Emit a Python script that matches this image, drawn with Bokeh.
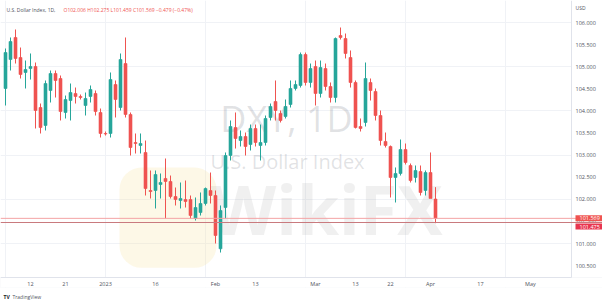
import numpy as np
import pandas as pd
from bokeh.plotting import figure
from bokeh.models import (Range1d, FixedTicker, PrintfTickFormatter, Label, Span,
                          ColumnDataSource, BoxAnnotation, LinearAxis)
from bokeh.embed import file_html
from bokeh.resources import INLINE

# ---------------- data ----------------
start_date = "2022-12-05"
end_date = "2023-04-04"
dates = pd.bdate_range(start_date, end_date)

opens = [104.507, 105.163, 105.661, 105.208, 104.869, 104.959, 105.005, 104.077, 103.670, 104.462,
         104.846, 104.733, 103.964, 104.235, 104.394, 104.326, 104.122, 104.326, 104.394, 103.964,
         103.489, 103.489, 104.597, 104.077, 105.072, 103.919, 103.285, 103.217, 103.059, 102.199,
         102.199, 102.335, 102.471, 102.403, 102.063, 101.973, 101.995, 101.995, 101.566, 101.701,
         101.905, 102.199, 102.086, 100.880, 101.814, 102.991, 103.624, 103.330, 103.421, 103.240,
         103.602, 103.217, 103.285, 103.851, 104.213, 103.941, 103.873, 104.145, 104.507, 104.575,
         105.276, 104.643, 105.005, 104.394, 104.959, 104.552, 104.303, 105.706, 105.638, 105.208,
         104.643, 103.647, 103.738, 104.643, 104.439, 103.896, 103.308, 103.195, 102.493, 102.584,
         103.127, 102.765, 102.493, 102.629, 102.199, 102.606, 102.006]
highs = [105.412, 105.661, 105.842, 105.434, 105.140, 105.299, 105.095, 104.167, 104.688, 104.914,
         104.914, 104.801, 104.348, 104.620, 104.529, 104.371, 104.416, 104.575, 104.462, 104.054,
         103.534, 104.869, 104.688, 105.299, 105.661, 103.964, 103.489, 103.489, 103.330, 102.652,
         102.652, 102.584, 102.923, 102.538, 102.267, 102.380, 102.425, 102.086, 102.041, 102.154,
         102.267, 102.606, 102.199, 101.860, 103.059, 103.783, 103.964, 103.557, 103.511, 103.692,
         103.692, 103.692, 103.896, 104.167, 104.688, 104.009, 104.258, 104.688, 104.688, 105.321,
         105.321, 105.072, 105.140, 105.140, 105.072, 104.643, 105.661, 105.887, 105.751, 105.367,
         104.688, 103.828, 105.095, 104.733, 104.507, 104.009, 103.511, 103.217, 102.720, 103.353,
         103.262, 102.810, 102.765, 102.765, 102.652, 103.059, 102.275]
lows = [104.122, 104.914, 105.072, 104.733, 104.507, 104.710, 103.602, 103.489, 103.557, 104.190,
        104.303, 103.783, 103.828, 103.783, 104.167, 104.258, 103.896, 104.190, 103.896, 103.398,
        103.443, 103.398, 103.851, 104.009, 103.851, 102.991, 103.036, 103.036, 102.086, 102.018,
        101.792, 102.018, 101.566, 102.018, 101.860, 101.792, 101.814, 101.566, 101.520, 101.633,
        101.860, 101.905, 101.000, 100.796, 101.566, 102.878, 103.149, 103.195, 102.991, 103.104,
        103.195, 102.878, 103.217, 103.783, 103.783, 103.738, 103.828, 104.077, 104.462, 104.529,
        104.575, 104.529, 104.122, 104.303, 104.462, 104.190, 104.190, 105.615, 105.186, 104.529,
        103.602, 103.534, 103.647, 104.235, 103.783, 103.217, 103.172, 102.041, 101.928, 102.538,
        102.787, 102.380, 102.380, 102.086, 102.086, 102.041, 101.459]
closes = [105.321, 105.570, 105.186, 104.824, 104.937, 105.005, 104.009, 103.624, 104.620, 104.846,
          104.688, 103.986, 104.258, 104.416, 104.326, 104.303, 104.281, 104.484, 103.986, 103.489,
          103.478, 104.710, 104.258, 105.163, 103.919, 103.172, 103.262, 103.262, 102.244, 102.176,
          102.561, 102.380, 102.403, 102.063, 101.995, 102.018, 101.950, 101.633, 101.814, 101.905,
          102.244, 102.086, 101.181, 101.747, 102.991, 103.647, 103.376, 103.421, 103.195, 103.602,
          103.285, 103.285, 103.828, 104.100, 104.009, 103.783, 104.100, 104.507, 104.597, 105.276,
          104.643, 104.959, 104.394, 104.982, 104.552, 104.303, 105.638, 105.661, 105.299, 104.643,
          103.624, 103.602, 104.733, 104.462, 103.896, 103.330, 103.217, 102.493, 102.584, 103.127,
          102.833, 102.425, 102.652, 102.154, 102.606, 102.018, 101.569]

price_ticks = [100.5, 101.0, 101.5, 102.0, 102.5, 103.0, 103.5, 104.0, 104.5, 105.0, 105.5, 106.0]
date_tick_days = ["2022-12-12", "2022-12-21", "2023-01-02", "2023-01-16", "2023-02-01", "2023-02-13",
                  "2023-03-01", "2023-03-13", "2023-03-22", "2023-04-03", "2023-04-17", "2023-05-01"]
date_tick_labels = ["12", "21", "2023", "16", "Feb", "13", "Mar", "13", "22", "Apr", "17", "May"]

last_price = 101.569
line_price = 101.475

GREEN = "#26a69a"
RED = "#ef5350"
FONT = "Open Sans"

# ---------------- scales ----------------
# frame covers the whole page; price pane ends at X_EDGE (right) and Y_EDGE (bottom)
X0, X1 = -1.0, 119.4            # 602 px wide, 5 px per bar
Y0, Y1 = 99.6425, 106.498       # 303 px tall
X_EDGE = 113.2                  # price-scale border
Y_EDGE = 100.2308               # time-scale border
Y_BOTTOM_LINE = 100.005         # lower border of the time scale
Y_HEADER = 106.29
Y_LOGO = 99.80

idx = list(range(len(dates)))
tops = [max(o, c) for o, c in zip(opens, closes)]
bottoms = [min(o, c) for o, c in zip(opens, closes)]
colors = [GREEN if c >= o else RED for o, c in zip(opens, closes)]
src = ColumnDataSource(dict(x=idx, high=highs, low=lows, top=tops, bottom=bottoms, color=colors))

p = figure(width=602, height=303, output_backend="svg", toolbar_location=None,
           x_range=Range1d(X0, X1), y_range=Range1d(Y0, Y1),
           x_axis_location=None, y_axis_location=None, min_border=0)
p.background_fill_color = "white"
p.border_fill_color = "white"
p.outline_line_color = None

# axes drawn at the pane borders
ticks_x = [int(np.busday_count(start_date, d)) for d in date_tick_days]
xaxis = LinearAxis(fixed_location=Y_EDGE, ticker=FixedTicker(ticks=ticks_x),
                   major_label_overrides={t: l for t, l in zip(ticks_x, date_tick_labels)},
                   bounds=(X0, X_EDGE), face="back")
yaxis = LinearAxis(fixed_location=X_EDGE, ticker=FixedTicker(ticks=price_ticks),
                   formatter=PrintfTickFormatter(format="%.3f"), bounds=(Y_EDGE, Y1))
p.add_layout(xaxis, "below")
p.add_layout(yaxis, "right")
for ax in (xaxis, yaxis):
    ax.axis_line_color = "#e0e3eb"
    ax.major_tick_line_color = None
    ax.minor_tick_line_color = None
    ax.major_tick_in = 0
    ax.major_tick_out = 0
    ax.minor_tick_in = 0
    ax.minor_tick_out = 0
    ax.major_label_text_font = FONT
    ax.major_label_text_font_size = "5.5px"
    ax.major_label_text_color = "#50535e"
xaxis.major_label_standoff = 3
yaxis.major_label_standoff = 4
p.xgrid.grid_line_color = "#f0f2f6"
p.ygrid.grid_line_color = "#f0f2f6"

# white strips over the scale areas (hide grid there)
p.add_layout(BoxAnnotation(left=X_EDGE, fill_color="white", fill_alpha=1, line_color=None,
                           level="underlay"))
p.add_layout(BoxAnnotation(top=Y_EDGE, bottom=Y_BOTTOM_LINE, fill_color="white", fill_alpha=1,
                           line_color="#e0e3eb", line_width=1, level="underlay"))
p.add_layout(BoxAnnotation(top=Y_BOTTOM_LINE, fill_color="white", fill_alpha=1, line_color=None,
                           level="underlay"))

# watermark
p.add_layout(BoxAnnotation(left=22.8, right=42.2, top=102.72, bottom=100.45,
                           fill_color="#f8e2a0", fill_alpha=0.25, line_color=None,
                           border_radius=22, level="underlay"))
p.add_layout(Label(x=56.2, y=103.83, text="DXY, 1D", text_font=FONT, text_font_size="36px",
                   text_color="#787b86", text_alpha=0.22, text_align="center",
                   text_baseline="middle", level="underlay"))
p.add_layout(Label(x=56.4, y=102.86, text="U.S. Dollar Index", text_font=FONT,
                   text_font_size="20px", text_color="#787b86", text_alpha=0.22,
                   text_align="center", text_baseline="middle", level="underlay"))
p.add_layout(Label(x=64.2, y=101.8, text="WikiFX", text_font=FONT, text_font_size="68px",
                   text_font_style="bold", text_color="#9a9a9a", text_alpha=0.15,
                   text_align="center", text_baseline="middle", level="underlay"))

# candles
p.segment(x0="x", y0="low", x1="x", y1="high", line_color="color", line_width=1, source=src)
p.vbar(x="x", width=0.6, top="top", bottom="bottom", fill_color="color",
       line_color="color", line_width=0.6, source=src)

# price lines
p.add_layout(Span(location=last_price, dimension="width", line_color="#f4a3a5", line_width=1))
p.add_layout(Span(location=line_price, dimension="width", line_color="#c97a7e", line_width=1))

# header
p.add_layout(Label(x=0.2, y=Y_HEADER, text="U.S. Dollar Index, 1D,", text_font=FONT,
                   text_font_size="5px", text_color="#50535e", text_baseline="middle"))
p.add_layout(Label(x=11.6, y=Y_HEADER,
                   text="O102.006  H102.275  L101.459  C101.569  \u22120.479 (\u22120.47%)",
                   text_font=FONT, text_font_size="5px", text_color=RED, text_baseline="middle"))

# price-scale labels
p.add_layout(Label(x=X_EDGE, x_offset=4, y=106.339, text="USD", text_font=FONT,
                   text_font_size="5px", text_color="#50535e", text_baseline="middle"))
p.add_layout(Label(x=X_EDGE, x_offset=4, y=last_price, text="101.569", text_font=FONT,
                   text_font_size="5.5px", text_color="white", text_baseline="middle",
                   background_fill_color="#ef5350",
                   padding=dict(left=4, right=8, top=1, bottom=1)))
p.add_layout(Label(x=X_EDGE, x_offset=4, y=line_price, y_offset=-4, text="101.475",
                   text_font=FONT, text_font_size="5.5px", text_color="white",
                   text_baseline="middle", background_fill_color="#e8364f",
                   padding=dict(left=4, right=8, top=1, bottom=1)))

# logo
p.add_layout(Label(x=-0.4, y=Y_LOGO, text="TV", text_font=FONT, text_font_size="5px",
                   text_font_style="bold", text_color="#131722", text_baseline="middle"))
p.add_layout(Label(x=1.4, y=Y_LOGO, text="TradingView", text_font=FONT, text_font_size="5px",
                   text_color="#50535e", text_baseline="middle"))

open("out.html", "w").write(file_html(p, INLINE))
